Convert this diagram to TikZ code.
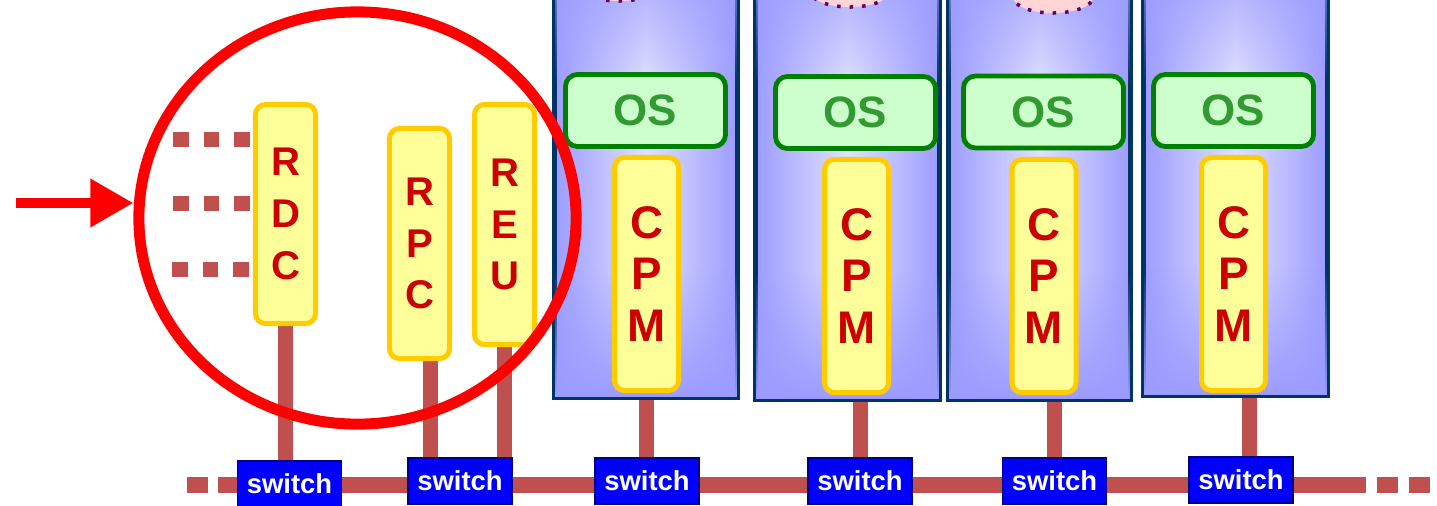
\documentclass[tikz,border=0pt]{standalone}
\usepackage{fontspec}
\setmainfont{Liberation Sans}
\usetikzlibrary{shapes.geometric,arrows.meta,backgrounds,fadings}

\definecolor{linkred}{HTML}{C0504D}
\definecolor{ringred}{HTML}{FF0000}
\definecolor{boxyellow}{HTML}{FFFF99}
\definecolor{boxedge}{HTML}{FFCC00}
\definecolor{letterred}{HTML}{CC0000}
\definecolor{osfill}{HTML}{CCFFCC}
\definecolor{osedge}{HTML}{008000}
\definecolor{ostext}{HTML}{339933}
\definecolor{crateedge}{HTML}{003366}
\definecolor{cratedark}{HTML}{9C9CFF}
\definecolor{cratelight}{HTML}{E0E0FF}
\definecolor{swfill}{HTML}{0000FF}
\definecolor{swedge}{HTML}{000080}
\definecolor{capfill}{HTML}{FFD5D5}
\definecolor{capdots}{HTML}{660066}

\tikzset{
  crate/.style = {draw=crateedge, line width=0.05cm, inner sep=0pt,
    left color=cratedark, right color=cratedark, middle color=cratelight,
    minimum height=4.6cm, anchor=south},
  osbox/.style = {draw=osedge, fill=osfill, line width=0.048cm,
    rounded corners=0.12cm, minimum width=1.6cm, minimum height=0.72cm,
    text=ostext, font=\bfseries\fontsize{12.5}{14}\selectfont},
  module/.style = {draw=boxedge, fill=boxyellow, line width=0.05cm,
    rounded corners=0.1cm, minimum width=0.6cm, inner sep=0pt,
    text=letterred, align=center, font=\bfseries\fontsize{11.4}{14.7}\selectfont},
  cpm/.style = {module, minimum width=0.64cm, minimum height=2.33cm,
    font=\bfseries\fontsize{13}{14.65}\selectfont},
  switchbox/.style = {draw=swedge, fill=swfill, line width=0.012cm,
    minimum width=1.04cm, minimum height=0.46cm, inner sep=0pt,
    text=white, font=\bfseries\fontsize{7.8}{9}\selectfont},
  topcap/.style = {ellipse, draw=capdots, fill=capfill, line width=0.035cm,
    dash pattern=on 0.035cm off 0.09cm, minimum width=0.8cm,
    minimum height=0.32cm, inner sep=0pt},
  ring/.style = {ellipse, draw=ringred, line width=0.11cm,
    minimum width=4.37cm, minimum height=4.12cm, inner sep=0pt},
  pointer/.style = {draw=ringred, line width=0.1cm,
    -{Triangle[length=0.43cm,width=0.46cm]}},
  bus/.style = {draw=linkred, line width=0.16cm},
  drop/.style = {draw=linkred, line width=0.15cm},
  feed/.style = {draw=linkred, line width=0.15cm,
    dash pattern=on 0.155cm off 0.15cm},
}

\begin{document}
\begin{tikzpicture}[x=0.01cm, y=-0.01cm]
  \useasboundingbox (0,0) rectangle (1437,505);
  \clip (0,0) rectangle (1437,505);

  % processor crates
  \node[crate, minimum width=1.83cm] (col1) at (646,399.5) {};
  \node[crate, minimum width=1.84cm] (col2) at (847.5,401.5) {};
  \node[crate, minimum width=1.82cm] (col3) at (1039.5,401.5) {};
  \node[crate, minimum width=1.84cm] (col4) at (1235.5,397.5) {};
  \foreach \crate in {col1,col2,col3,col4} {
    \fill[cratedark, path fading=north]
      ([shift={(0.03cm,0.03cm)}]\crate.south west) rectangle ([shift={(-0.03cm,1.3cm)}]\crate.south east);
    \fill[cratedark, path fading=south]
      ([shift={(0.03cm,-0.03cm)}]\crate.north west) rectangle ([shift={(-0.03cm,-1.5cm)}]\crate.north east);
  }

  \node[topcap] (cap1) at (619,-15) {};
  \node[topcap] (cap2) at (850,-9) {};
  \node[topcap] (cap3) at (1053,-3) {};

  \node[osbox] (os1) at (645.5,110.5) {OS};
  \node[osbox] (os2) at (855.5,112.5) {OS};
  \node[osbox] (os3) at (1043.5,112) {OS};
  \node[osbox] (os4) at (1233.5,110.5) {OS};

  \node[cpm] (cpm1) at (646.5,274) {C\\P\\M};
  \node[cpm] (cpm2) at (856.5,276) {C\\P\\M};
  \node[cpm] (cpm3) at (1044,276) {C\\P\\M};
  \node[cpm] (cpm4) at (1233.5,274) {C\\P\\M};

  % readout modules
  \node[module, minimum height=2.19cm] (rdc) at (285.5,214) {R\\D\\C};
  \node[module, minimum height=2.30cm] (rpc) at (419.5,243.5) {R\\P\\C};
  \node[module, minimum height=2.40cm] (reu) at (504.5,224.5) {R\\E\\U};

  % network
  \node[switchbox] (sw1) at (289.5,484) {switch};
  \node[switchbox] (sw2) at (460,481) {switch};
  \node[switchbox] (sw3) at (647,481) {switch};
  \node[switchbox] (sw4) at (860,481) {switch};
  \node[switchbox] (sw5) at (1054.5,481) {switch};
  \node[switchbox] (sw6) at (1241,480) {switch};

  \coordinate (busLL) at (187,485);
  \coordinate (busL) at (218,485);
  \coordinate (busR) at (1366,485);
  \coordinate (busRR) at (1430,485);
  \coordinate (rpcfoot) at ([xshift=0.105cm]rpc.south);
  \coordinate (col4foot) at ([xshift=0.085cm]sw6.north);
  \coordinate (in1) at (173,139.5);
  \coordinate (in2) at (173,203.5);
  \coordinate (in3) at (172,269.5);

  \begin{pgfonlayer}{background}
    \draw[bus] (busL) -- (busR);
    \draw[bus, dash pattern=on 0.21cm off 0.10cm] (busLL) -- (busL);
    \draw[bus, dash pattern=on 0.21cm off 0.11cm, dash phase=0.21cm] (busR) -- (busRR);

    \draw[drop] (rdc.south) -- (rdc.south |- sw1.north);
    \draw[drop] (rpcfoot) -- (rpcfoot |- sw2.north);
    \draw[drop] (reu.south) -- (reu.south |- sw2.north);
    \draw[drop] (col1.south) -- (col1.south |- sw3.north);
    \draw[drop] (sw4.north) -- (sw4.north |- col2.south);
    \draw[drop] (sw5.north) -- (sw5.north |- col3.south);
    \draw[drop] (col4foot) -- (col4foot |- col4.south);

    \draw[feed] (in1) -- (in1 -| rdc.west);
    \draw[feed] (in2) -- (in2 -| rdc.west);
    \draw[feed] (in3) -- (in3 -| rdc.west);
  \end{pgfonlayer}

  % highlight
  \node[ring] (ring) at (357.5,218) {};
  \coordinate (arrowtail) at (16,203);
  \draw[pointer] (arrowtail) -- (arrowtail -| ring.west);
\end{tikzpicture}
\end{document}
